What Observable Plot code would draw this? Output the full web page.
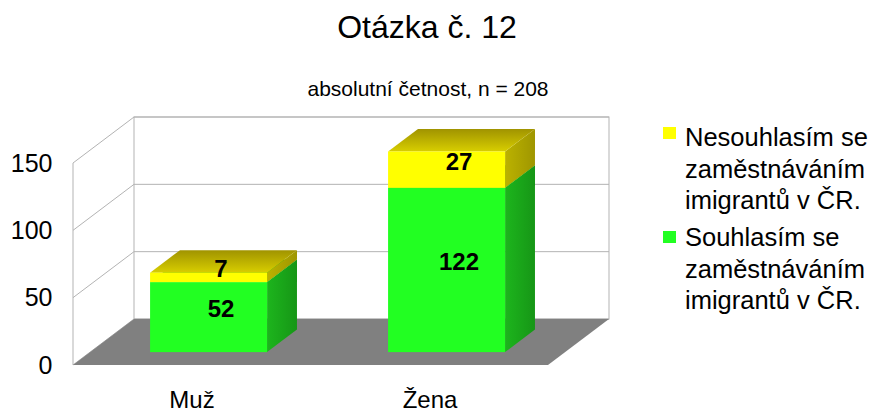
<!DOCTYPE html>
<html>
<head>
<meta charset="utf-8">
<script src="https://cdn.jsdelivr.net/npm/d3@7"></script>
<script src="https://cdn.jsdelivr.net/npm/@observablehq/plot@0.6"></script>
<style>
html, body { margin: 0; padding: 0; background: #fff; }
#wrap { position: relative; width: 875px; height: 413px; overflow: hidden; font-family: "Liberation Sans", Arial, sans-serif; color: #000; }
#wrap svg { position: absolute; left: 0; top: 0; }
.title { position: absolute; left: 0; width: 854px; top: 11px; text-align: center; font-size: 32px; line-height: 32px; }
.sub { position: absolute; left: 0; width: 856px; top: 78px; text-align: center; font-size: 21px; line-height: 21px; }
.lg-sq { position: absolute; left: 663px; width: 13px; height: 12px; }
.lg-tx { position: absolute; left: 685px; font-size: 25.5px; line-height: 31.5px; white-space: nowrap; }
</style>
</head>
<body>
<div id="wrap">
  <div class="title">Otázka č. 12</div>
  <div class="sub">absolutní četnost, n = 208</div>
  <div id="legend"></div>
</div>
<script>
const categories = ["Muž", "Žena"];
const seriesNames = ["Souhlasím se zaměstnáváním imigrantů v ČR.", "Nesouhlasím se zaměstnáváním imigrantů v ČR."];
const legendLines = [["Souhlasím se", "zaměstnáváním", "imigrantů v ČR."], ["Nesouhlasím se", "zaměstnáváním", "imigrantů v ČR."]];
const agree = [52, 122];
const disagree = [7, 27];
const yTicks = [0, 50, 100, 150];
const frontColors = ["#22ff22", "#ffff00"];

const table = [];
categories.forEach((c, i) => {
  let base = 0;
  [agree[i], disagree[i]].forEach((v, s) => {
    table.push({cat: c, series: seriesNames[s], s, value: v, y1: base, y2: base + v, mid: base + v / 2});
    base += v;
  });
});

const DX = 61, DY = -46, F0 = 0.28, F1 = 0.77;

const chart = Plot.plot({
  width: 875, height: 413,
  marginLeft: 73, marginRight: 327, marginTop: 163, marginBottom: 48,
  style: {fontFamily: '"Liberation Sans", Arial, sans-serif', color: "#000", background: "transparent", overflow: "visible"},
  x: {domain: categories, paddingInner: 0.508, paddingOuter: 0.25},
  y: {domain: [0, 150]},
  color: {domain: seriesNames, range: frontColors},
  marks: [
    Plot.axisY(yTicks, {tickSize: 0, tickPadding: 21, fontSize: 25, label: null}),
    Plot.axisX({tickSize: 0, tickPadding: 25, fontSize: 24, label: null}),
    Plot.barY(table, {x: "cat", y1: "y1", y2: "y2", fill: "series", dx: F0 * DX, dy: F0 * DY}),
    Plot.text(table, {x: "cat", y: "mid", text: d => String(d.value), dx: 29, dy: -21, fontSize: 24, fontWeight: "bold", fill: "#000"})
  ]
});

document.getElementById("wrap").appendChild(chart);

// 3D decoration drawn with the chart's own scales
const sx = chart.scale("x"), sy = chart.scale("y");
const [xl, xr] = sx.range;
const bw = sx.bandwidth;
const Y = v => sy.apply(v);
const pts = a => a.map(p => p.join(",")).join(" ");

const bg = d3.create("svg:g");
const defs = bg.append("defs");
function grad(id, x2, y2, stops) {
  const g = defs.append("linearGradient").attr("id", id).attr("x1", 0).attr("y1", 0).attr("x2", x2).attr("y2", y2);
  stops.forEach(([o, c]) => g.append("stop").attr("offset", o).attr("stop-color", c));
}
grad("gside", 1, 0, [[0, "#1db51d"], [1, "#169616"]]);
grad("gtop", 0, 1, [[0, "#15a015"], [1, "#1fd01f"]]);
grad("yside", 1, 0, [[0, "#bbb200"], [1, "#9f9600"]]);
grad("ytop", 0, 1, [[0, "#a09300"], [1, "#d8ce00"]]);

const lineCol = "#b3b3b3";
// back wall
bg.append("rect").attr("x", xl + DX).attr("y", Y(150) + DY).attr("width", xr - xl).attr("height", Y(0) - Y(150))
  .attr("fill", "#fff").attr("stroke", lineCol);
yTicks.forEach(v => {
  bg.append("line").attr("x1", xl + DX).attr("x2", xr + DX).attr("y1", Y(v) + DY).attr("y2", Y(v) + DY).attr("stroke", lineCol);
  bg.append("line").attr("x1", xl).attr("x2", xl + DX).attr("y1", Y(v)).attr("y2", Y(v) + DY).attr("stroke", lineCol);
});
bg.append("line").attr("x1", xl).attr("x2", xl).attr("y1", Y(0)).attr("y2", Y(150)).attr("stroke", lineCol);
// floor
bg.append("polygon").attr("points", pts([[xl, Y(0)], [xr, Y(0)], [xr + DX, Y(0) + DY], [xl + DX, Y(0) + DY]])).attr("fill", "#808080");

// bar side and top faces
const ddx = (F1 - F0) * DX, ddy = (F1 - F0) * DY;
table.forEach(d => {
  const x0 = sx.apply(d.cat) + F0 * DX, x1 = x0 + bw;
  const ya = Y(d.y1) + F0 * DY, yb = Y(d.y2) + F0 * DY;
  bg.append("polygon").attr("points", pts([[x1, ya], [x1, yb], [x1 + ddx, yb + ddy], [x1 + ddx, ya + ddy]]))
    .attr("fill", d.s === 0 ? "url(#gside)" : "url(#yside)");
  bg.append("polygon").attr("points", pts([[x0, yb], [x1, yb], [x1 + ddx, yb + ddy], [x0 + ddx, yb + ddy]]))
    .attr("fill", d.s === 0 ? "url(#gtop)" : "url(#ytop)");
});

const barG = chart.querySelector('g[aria-label="bar"]');
chart.insertBefore(bg.node(), barG);

// legend (top entry first, as in the reference)
const legend = document.getElementById("legend");
[[1, 122.4, 127], [0, 222.4, 231]].forEach(([s, top, sqTop]) => {
  const sq = document.createElement("div");
  sq.className = "lg-sq"; sq.style.top = sqTop + "px"; sq.style.background = frontColors[s];
  legend.appendChild(sq);
  const tx = document.createElement("div");
  tx.className = "lg-tx"; tx.style.top = top + "px";
  tx.innerHTML = legendLines[s].join("<br>");
  legend.appendChild(tx);
});
</script>
</body>
</html>
